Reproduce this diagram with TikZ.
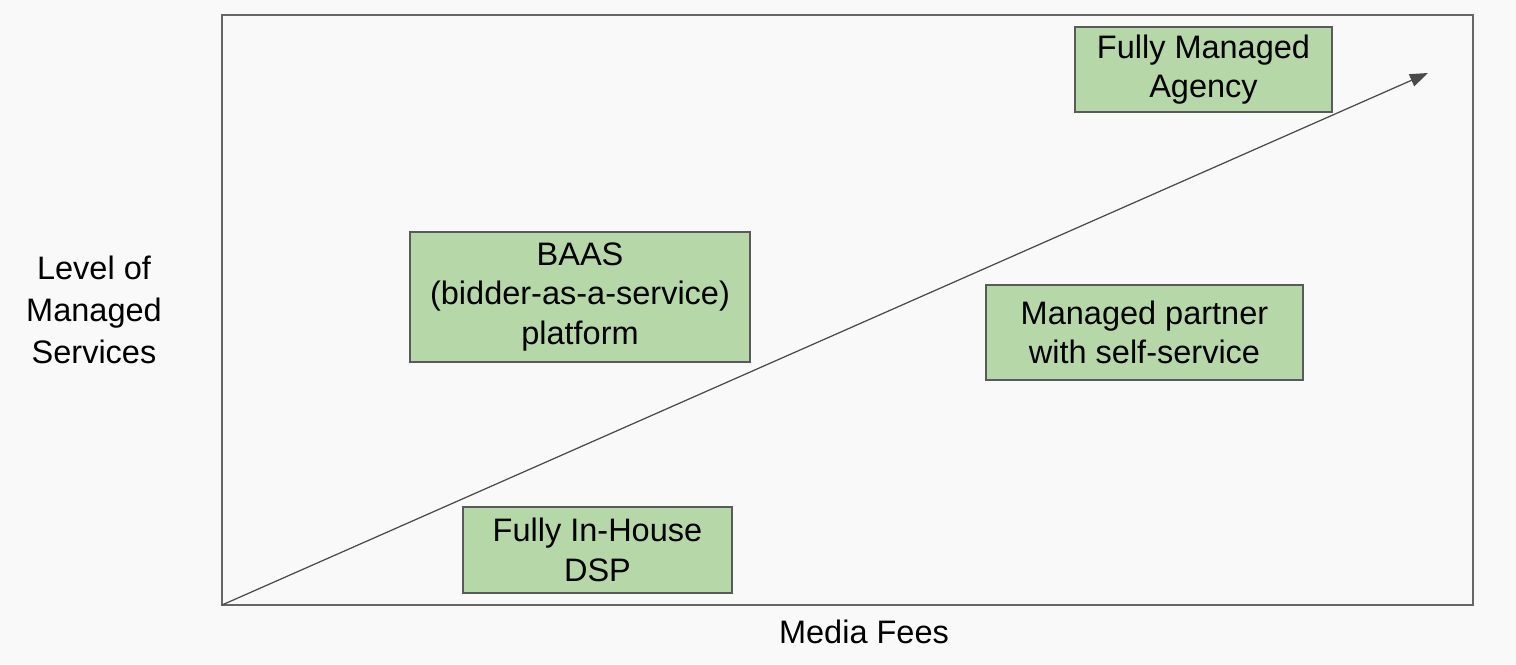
\documentclass[tikz,border=0pt]{standalone}
\usepackage{fontspec}
\setmainfont{Liberation Sans}
\usepackage{xcolor}
\usetikzlibrary{arrows.meta,positioning}
\definecolor{boxgreen}{HTML}{B6D7A8}
\definecolor{boxline}{HTML}{5A5A5A}
\definecolor{frameline}{HTML}{666666}
\definecolor{arrowline}{HTML}{4A4A4A}
\definecolor{pagebg}{HTML}{F9F9F9}

\begin{document}
\begin{tikzpicture}[
  x=0.02cm, y=-0.02cm,
  seg/.style={rectangle, draw=boxline, fill=boxgreen, line width=0.7pt,
    font=\fontsize{18.5}{22.4}\selectfont, align=center, inner sep=0pt},
  axislabel/.style={font=\fontsize{18.5}{23.8}\selectfont, align=center, inner sep=0pt},
  trend/.style={-{Triangle[length=0.36cm, width=0.26cm]}, draw=arrowline, fill=arrowline, line width=0.7pt}
]
% page and plot area
\fill[pagebg] (0,0) rectangle (1516,664);
\useasboundingbox (0,0) rectangle (1516,664);
\draw[frameline, line width=1pt] (222,15) rectangle (1473,605);

% trend arrow
\coordinate (origin) at (222,605);
\coordinate (tip) at (1428,73);
\draw[trend] (origin) -- (tip);

% segments
\node[seg, minimum width=5.14cm, minimum height=1.7cm] (agency) at (1203.5,69.5) {Fully Managed\\Agency};
\node[seg, minimum width=6.8cm, minimum height=2.6cm] (baas) at (580,297) {BAAS\\(bidder-as-a-service)\\platform};
\node[seg, minimum width=6.34cm, minimum height=1.9cm] (partner) at (1144.5,332.5) {Managed partner\\with self-service};
\node[seg, minimum width=5.38cm, minimum height=1.72cm] (inhouse) at (597.5,550) {Fully In-House\\DSP};

% axes
\node[axislabel] (ylabel) at (94,310) {Level of\\Managed\\Services};
\node[axislabel] (xlabel) at (864,632) {Media Fees};
\end{tikzpicture}
\end{document}
